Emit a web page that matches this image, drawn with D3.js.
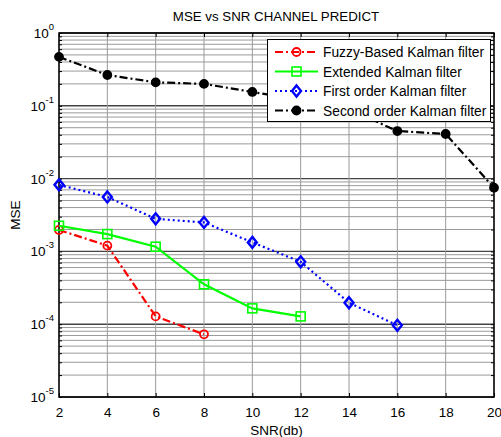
<!DOCTYPE html>
<html><head><meta charset="utf-8">
<script src="https://cdn.jsdelivr.net/npm/d3@7"></script>
<style>body{margin:0;background:#fff}svg{display:block}text{font-family:"Liberation Sans",Arial,sans-serif}</style>
</head><body>
<svg id="c" width="501" height="437"></svg>
<script>
const snr = [2,4,6,8,10,12,14,16,18,20];
const fuzzy = [0.00197,0.0012,0.000128,0.0000726];
const extended = [0.00225,0.00173,0.00116,0.000353,0.000165,0.000128];
const firstOrder = [0.0082,0.0056,0.0028,0.0025,0.00133,0.00072,0.000197,0.0000966];
const secondOrder = [0.47,0.265,0.21,0.20,0.155,0.12,0.09,0.045,0.041,0.0075];
const xTicks = [2,4,6,8,10,12,14,16,18,20];
const yExps = [0,-1,-2,-3,-4,-5];
const seriesNames = ["Fuzzy-Based Kalman filter","Extended Kalman filter","First order Kalman filter","Second order Kalman filter"];

const svg = d3.select("#c");
const L=59, R=494, T=33, B=397;
const x = d3.scaleLinear().domain([2,20]).range([L,R]);
const y = d3.scaleLog().domain([1e-5,1]).range([B,T]);

// grid
const g = svg.append("g");
const minor=[];
for(let e=-5;e<0;e++) for(let m=2;m<=9;m++) minor.push(m*Math.pow(10,e));
g.selectAll(".mn").data(minor).enter().append("line")
 .attr("x1",L).attr("x2",R).attr("y1",d=>y(d)).attr("y2",d=>y(d))
 .attr("stroke","#9a9a9a").attr("stroke-width",1);
g.selectAll(".mj").data(yExps).enter().append("line")
 .attr("x1",L).attr("x2",R).attr("y1",d=>y(Math.pow(10,d))).attr("y2",d=>y(Math.pow(10,d)))
 .attr("stroke","#444").attr("stroke-width",1.4);
g.selectAll(".vx").data(xTicks).enter().append("line")
 .attr("x1",d=>x(d)).attr("x2",d=>x(d)).attr("y1",T).attr("y2",B)
 .attr("stroke","#999").attr("stroke-width",1);

// axes with inward ticks
const ax = svg.append("g");
ax.append("g").attr("transform",`translate(0,${B})`).call(d3.axisBottom(x).tickValues(xTicks).tickSizeInner(-4).tickSizeOuter(0).tickPadding(10))
 .call(s=>{s.select(".domain").remove();s.selectAll("text").attr("font-size",13.5).attr("fill","#000");});
ax.append("g").attr("transform",`translate(0,${T})`).call(d3.axisTop(x).tickValues(xTicks).tickSizeInner(-4).tickSizeOuter(0).tickFormat(""))
 .call(s=>s.select(".domain").remove());
const yt = [];
for(let e=-5;e<=0;e++) for(let m=1;m<=9;m++){ if(e===0&&m>1) break; yt.push(m*Math.pow(10,e)); }
ax.append("g").attr("transform",`translate(${L},0)`).call(d3.axisLeft(y).tickValues(yt).tickSize(-3).tickFormat(""))
 .call(s=>s.select(".domain").remove());
ax.append("g").attr("transform",`translate(${R},0)`).call(d3.axisRight(y).tickValues(yt).tickSize(-3).tickFormat(""))
 .call(s=>s.select(".domain").remove());
svg.append("rect").attr("x",L).attr("y",T).attr("width",R-L).attr("height",B-T).attr("fill","none").attr("stroke","#000").attr("stroke-width",1.5);

// y tick labels 10^e
const yl = svg.append("g");
yExps.forEach(e=>{
  const t = yl.append("text").attr("x",L-5).attr("y",y(Math.pow(10,e))+5).attr("text-anchor","end").attr("font-size",13.5);
  t.append("tspan").text("10");
  t.append("tspan").attr("dy",-8).attr("font-size",9.5).text(String(e));
});

// title & labels
svg.append("text").attr("x",276).attr("y",21).attr("text-anchor","middle").attr("font-size",13.3).text("MSE vs SNR CHANNEL PREDICT");
svg.append("text").attr("x",(L+R)/2).attr("y",435).attr("text-anchor","middle").attr("font-size",13.5).text("SNR(db)");
svg.append("text").attr("transform",`translate(20,${(T+B)/2}) rotate(-90)`).attr("text-anchor","middle").attr("font-size",13.5).text("MSE");

const styles = [
 {data:fuzzy,color:"#ff0000",dash:"8,3,2,3",marker:"circle",fill:"none"},
 {data:extended,color:"#00ff00",dash:null,marker:"square",fill:"none"},
 {data:firstOrder,color:"#0000ff",dash:"2,3",marker:"diamond",fill:"none"},
 {data:secondOrder,color:"#000000",dash:"8,3,2,3",marker:"circle",fill:"#000"}
];
const line = d3.line().x(d=>x(d[0])).y(d=>y(d[1]));
function drawMarker(sel,st,px,py){
  if(st.marker==="circle") sel.append("circle").attr("cx",px).attr("cy",py).attr("r",4).attr("fill",st.fill).attr("stroke",st.color).attr("stroke-width",1.8);
  else if(st.marker==="square") sel.append("rect").attr("x",px-4.5).attr("y",py-4.5).attr("width",9).attr("height",9).attr("fill","none").attr("stroke",st.color).attr("stroke-width",1.6);
  else sel.append("path").attr("d",`M${px},${py-5.5}L${px+4.5},${py}L${px},${py+5.5}L${px-4.5},${py}Z`).attr("fill","none").attr("stroke",st.color).attr("stroke-width",2.4);
}
const plot = svg.append("g");
styles.forEach(st=>{
  const pts = st.data.map((v,i)=>[snr[i],v]);
  plot.append("path").attr("d",line(pts)).attr("fill","none").attr("stroke",st.color).attr("stroke-width",2.2).attr("stroke-dasharray",st.dash);
  pts.forEach(p=>drawMarker(plot,st,x(p[0]),y(p[1])));
});

// legend
const lg = svg.append("g");
lg.append("rect").attr("x",267.5).attr("y",39.5).attr("width",223).attr("height",82).attr("fill","#fff").attr("stroke","#000").attr("stroke-width",1);
styles.forEach((st,i)=>{
  const yy = 52+i*19.5;
  lg.append("line").attr("x1",275).attr("x2",318).attr("y1",yy).attr("y2",yy).attr("stroke",st.color).attr("stroke-width",2.2).attr("stroke-dasharray",st.dash);
  drawMarker(lg,st,296.5,yy);
  lg.append("text").attr("x",323).attr("y",yy+5).attr("font-size",13.8).text(seriesNames[i]);
});
</script>
</body></html>
